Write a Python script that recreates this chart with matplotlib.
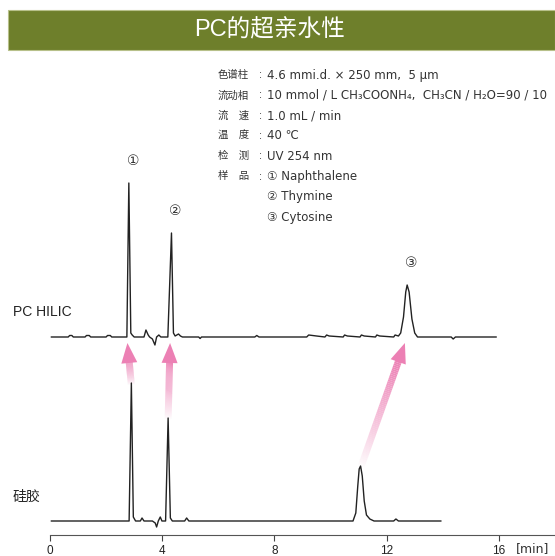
import numpy as np
import matplotlib
matplotlib.use("Agg")
import matplotlib.pyplot as plt
from matplotlib.patches import Rectangle, Polygon
from matplotlib.collections import LineCollection

plt.rcParams['font.family'] = ['Liberation Sans', 'Noto Sans CJK SC', 'DejaVu Sans']

# ---------------- data ----------------
title = "PC的超亲水性"
trace_names = ["PC HILIC", "硅胶"]

# PC HILIC chromatogram (time [min], signal)
pc_time = [0.05, 0.65, 0.7, 0.78, 0.83, 1.25, 1.3, 1.4, 1.45, 2.0, 2.05, 2.15, 2.2,
           2.74, 2.81, 2.88, 2.93, 3.0, 3.05, 3.35, 3.42, 3.5, 3.55, 3.65, 3.74,
           3.8, 3.88, 3.95, 4.0, 4.2, 4.33, 4.4, 4.46, 4.58, 4.65, 4.72, 5.3,
           5.35, 5.4, 7.3, 7.37, 7.45, 9.15, 9.22, 9.5, 9.8, 9.86, 9.95, 10.45,
           10.5, 10.6, 11.05, 11.1, 11.2, 11.6, 11.65, 11.75, 12.25, 12.3, 12.42,
           12.5, 12.6, 12.68, 12.73, 12.8, 12.9, 13.0, 13.1, 14.3, 14.37, 14.45, 15.9]
pc_signal = [0, 0, 1.5, 1.5, 0, 0, 1.5, 1.5, 0, 0, 1.5, 1.5, 0,
             0, 154, 4, 2, 0, 0, 0, 7, 2, 0, -2, -8,
             0, 2, 0, 0, 0, 104, 4, 1, 3, 1, 0, 0,
             -1.5, 0, 0, 1.5, 0, 0, 2, 1, 0, 2, 1, 0,
             2, 1, 0, 2, 1, 0, 2, 1, 0, 2, 1,
             4, 20, 45, 52, 45, 18, 4, 0, 0, -2, 0, 0]

# Silica chromatogram (time [min], signal)
si_time = [0.05, 2.82, 2.9, 2.97, 3.05, 3.22, 3.28, 3.35, 3.65, 3.75, 3.8, 3.86,
           3.93, 3.99, 4.12, 4.21, 4.29, 4.36, 4.8, 4.87, 4.95, 10.8, 10.9, 10.97,
           11.02, 11.07, 11.13, 11.2, 11.28, 11.4, 11.55, 12.25, 12.33, 12.42, 13.93]
si_signal = [0, 0, 138, 4, 0, 0, 3, 0, 0, -2, -6, 0,
             4, 0, 0, 103, 3, 0, 0, 3, 0, 0, 8, 35,
             52, 55, 45, 20, 6, 2, 0, 0, 2, 0, 0]

# peak retention times (silica -> PC HILIC) and labels
peak_labels = ["①", "②", "③"]
si_peak_time = [2.9, 4.21, 11.07]
si_peak_height = [138, 103, 55]
pc_peak_time = [2.81, 4.33, 12.73]
pc_peak_height = [154, 104, 52]

x_ticks = [0, 4, 8, 12, 16]
x_unit = "[min]"

cond_labels = ["色谱柱", "流动相", "流　速", "温　度", "检　测", "样　品", "", ""]
cond_values = ["4.6 mmi.d. × 250 mm,  5 µm",
               "10 mmol / L CH₃COONH₄,  CH₃CN / H₂O=90 / 10",
               "1.0 mL / min",
               "40 ℃",
               "UV 254 nm",
               "① Naphthalene",
               "② Thymine",
               "③ Cytosine"]

# ---------------- layout ----------------
W, H = 555, 556
fig = plt.figure(figsize=(W / 100, H / 100), dpi=100)
ax = fig.add_axes([50 / W, (H - 535) / H, 505 / W, 475 / H])
ax.set_xlim(0, 18)
ax.set_ylim(0, 475)

si_base = 14
pc_base = 198
line_color = "#222222"

ax.plot(pc_time, np.array(pc_signal) + pc_base, color=line_color, lw=1.0, clip_on=False)
ax.plot(si_time, np.array(si_signal) + si_base, color=line_color, lw=1.0, clip_on=False)

# peak labels
for t, h, lab in zip(pc_peak_time, pc_peak_height, peak_labels):
    ax.text(t + 0.15, pc_base + h + 22, lab, ha="center", va="center", fontsize=10,
            color="#333333", family=['DejaVu Sans'])

# trace names
fig.text(13 / W, 1 - 312 / H, trace_names[0], ha="left", va="center", fontsize=10,
         color="#222222")
fig.text(13 / W, 1 - 497 / H, trace_names[1], ha="left", va="center", fontsize=10,
         color="#222222")

# spines / ticks
for s in ["top", "right", "left"]:
    ax.spines[s].set_visible(False)
ax.spines["bottom"].set_color("#555555")
ax.spines["bottom"].set_linewidth(0.8)
ax.set_yticks([])
ax.set_xticks(x_ticks)
ax.set_xticklabels([str(v) for v in x_ticks])
ax.tick_params(axis="x", direction="out", length=4, width=0.8, color="#444444",
               labelsize=8.5, pad=3, labelcolor="#222222")
ax.text(16.6, -14, x_unit, ha="left", va="center", fontsize=9, color="#333333",
        clip_on=False, family=['DejaVu Sans'])
ax.patch.set_alpha(0)

# arrows with gradient
pink = np.array([236, 128, 180]) / 255.0


def grad_arrow(t0, y0, t1, y1):
    p0 = ax.transData.transform((t0, y0))
    p1 = ax.transData.transform((t1, y1))
    d = p1 - p0
    L = np.hypot(*d)
    u = d / L
    n = np.array([-u[1], u[0]])
    head_len = 20
    head_hw = 8
    hb = p1 - u * head_len
    head = np.array([p1, hb + n * head_hw, hb - n * head_hw])
    head_data = ax.transData.inverted().transform(head)
    ax.add_patch(Polygon(head_data, closed=True, facecolor=pink, edgecolor="none",
                         zorder=1, clip_on=False))
    N = 60
    pts = np.array([p0 + (hb + u * 1 - p0) * k / N for k in range(N + 1)])
    pts_d = ax.transData.inverted().transform(pts)
    segs = [[pts_d[k], pts_d[k + 1]] for k in range(N)]
    cols = [(pink[0], pink[1], pink[2], (k / N) ** 0.9) for k in range(N)]
    lc = LineCollection(segs, colors=cols, linewidths=5.0, capstyle="butt",
                        zorder=1, clip_on=False)
    ax.add_collection(lc)


tip_y = pc_base - 6
for ts, hs, tp in zip(si_peak_time, si_peak_height, pc_peak_time):
    tail_y = si_base + hs - 2
    grad_arrow(ts, tail_y, tp - 0.05 if tp < 5 else tp - 0.08, tip_y)

# title bar
fig.patches.append(Rectangle((8 / W, 1 - 50 / H), 1 - 8 / W, 40 / H, transform=fig.transFigure,
                             facecolor="#6e7f2b", edgecolor="#b7c08a", lw=0.8, zorder=0))
fig.text(270 / W, 1 - 30 / H, title, ha="center", va="center", fontsize=17, color="white",
         family=['Liberation Sans', 'Noto Sans CJK SC'])

# conditions
y0 = 75
dy = 20.3
for i, (lab, val) in enumerate(zip(cond_labels, cond_values)):
    yy = 1 - (y0 + i * dy) / H
    if lab:
        fig.text(218 / W, yy, lab, ha="left", va="center", fontsize=7.5, color="#333333",
                 family=['Noto Sans CJK SC', 'DejaVu Sans'])
        fig.text(259 / W, yy, ":", ha="left", va="center", fontsize=8, color="#333333")
    fig.text(267 / W, yy, val, ha="left", va="center", fontsize=8.5, color="#333333",
             family=['DejaVu Sans', 'Noto Sans CJK SC'])

fig.savefig("out.png", dpi=100)
